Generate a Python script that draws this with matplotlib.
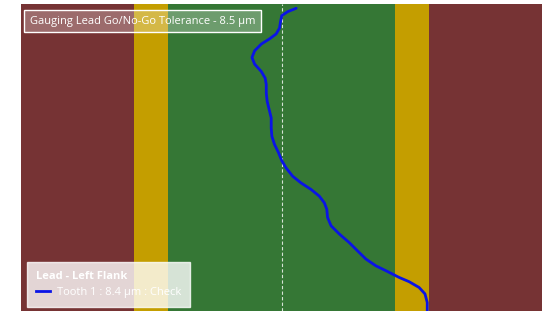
import matplotlib
matplotlib.use('Agg')
import matplotlib.pyplot as plt
from matplotlib.lines import Line2D

# tolerance bands (um)
go_tol = 8.5
warn_tol = 11.05
x_limit = 19.5

# measured lead deviation, tooth 1 (um) vs face width position (%)
dev = [1.10, 0.47, 0.02, -0.07, -0.15, -0.40, -0.89, -1.51, -2.01, -2.21, -2.01, -1.51,
       -1.22, -1.14, -1.14, -1.07, -0.92, -0.77, -0.77, -0.72, -0.52, -0.22, 0.02, 0.35,
       0.84, 1.47, 2.21, 2.83, 3.21, 3.39, 3.45, 3.71, 4.33, 5.07, 5.69, 6.32, 7.06, 7.81,
       8.80, 9.55, 10.30, 10.74, 10.91, 10.91]
pos = [99.1, 98.0, 96.7, 94.8, 92.6, 90.7, 89.1, 87.4, 85.2, 83.0, 80.8, 78.4,
       76.2, 74.1, 71.3, 68.6, 65.9, 63.2, 59.9, 57.2, 54.5, 51.8, 49.2, 46.8,
       44.1, 41.9, 39.8, 37.6, 35.4, 33.3, 30.6, 27.9, 25.2, 22.4, 19.7, 17.0, 14.8, 13.2,
       11.0, 9.6, 7.7, 5.6, 2.8, 0.0]

title_text = 'Gauging Lead Go/No-Go Tolerance - 8.5 \u00b5m'
legend_title = 'Lead - Left Flank'
legend_label = 'Tooth 1 : 8.4 \u00b5m : Check'

red = '#763334'
yellow = '#c49e00'
green = '#357735'
blue = '#0a14e6'

plt.rcParams['font.family'] = ['Open Sans', 'DejaVu Sans']

fig = plt.figure(figsize=(5.46, 3.11), dpi=100)
ax = fig.add_axes([21 / 546, 0, 521 / 546, 1 - 4 / 311])

ax.axvspan(-x_limit, -warn_tol, color=red, lw=0)
ax.axvspan(-warn_tol, -go_tol, color=yellow, lw=0)
ax.axvspan(-go_tol, go_tol, color=green, lw=0)
ax.axvspan(go_tol, warn_tol, color=yellow, lw=0)
ax.axvspan(warn_tol, x_limit, color=red, lw=0)
ax.axvline(0, color='white', lw=0.8, ls=(0, (3, 2)), alpha=0.8)

ax.plot(dev, pos, color=blue, lw=2, solid_capstyle='round', solid_joinstyle='round')

ax.set_xlim(-x_limit, x_limit)
ax.set_ylim(0, 100.5)
ax.axis('off')

ax.text(0.0173, 0.944, title_text, transform=ax.transAxes, color='white', fontsize=8,
        ha='left', va='center',
        bbox=dict(boxstyle='square,pad=0.5', fc=(1, 1, 1, 0.28), ec='white', lw=1))

handle = Line2D([], [], color=blue, lw=2)
leg = ax.legend([handle], [legend_label], title=legend_title, loc='lower left',
                bbox_to_anchor=(0.0115, 0.013), borderaxespad=0, fontsize=8,
                title_fontsize=8, frameon=True, fancybox=False, handlelength=1.3,
                handletextpad=0.6, borderpad=0.8)
leg.get_frame().set_facecolor((1, 1, 1, 0.28))
leg.get_frame().set_edgecolor('white')
leg.get_title().set_color('white')
leg.get_title().set_fontweight('bold')
leg._legend_box.align = 'left'
for t in leg.get_texts():
    t.set_color('white')

fig.savefig('out.png', dpi=100)
